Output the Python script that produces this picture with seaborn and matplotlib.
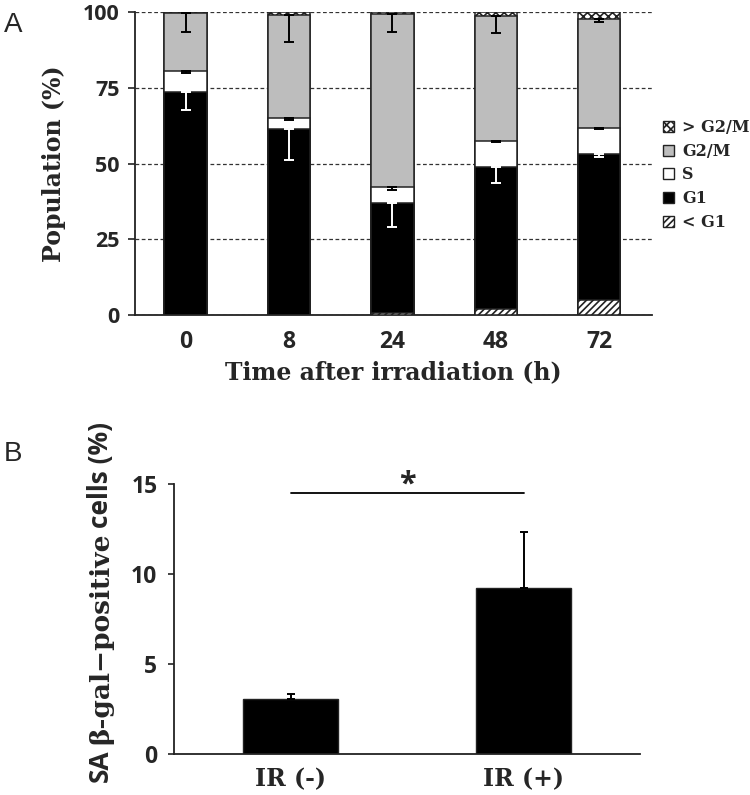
import numpy as np
import pandas as pd
import matplotlib
matplotlib.use("Agg")
import matplotlib.pyplot as plt
from matplotlib.patches import Patch
import seaborn as sns

# Panel A: cell cycle distribution (%) after irradiation
times = ["0", "8", "24", "48", "72"]
sub_g1 = [0.1, 0.1, 0.6, 2.0, 5.0]
g1 = [73.6, 61.2, 36.3, 47.0, 48.0]
s_phase = [6.9, 3.7, 5.5, 8.4, 8.6]
g2m = [19.0, 34.0, 56.8, 41.3, 36.0]
super_g2m = [0.4, 1.0, 0.8, 1.3, 2.4]
g1_err = [6.0, 10.0, 8.0, 5.6, 0.8]
s_err = [0.7, 0.6, 1.3, 0.3, 0.3]
g2m_err = [6.2, 9.0, 5.7, 5.5, 0.8]

# Panel B: SA beta-gal positive cells
groups = ["IR (-)", "IR (+)"]
sa_gal = [3.05, 9.26]
sa_gal_err = [0.28, 3.11]

sns.set_theme(style="ticks")
plt.rcParams["hatch.linewidth"] = 1.2
plt.rcParams["font.weight"] = "bold"

sans = ["Open Sans", "DejaVu Sans"]
serif = ["DejaVu Serif"]

df = pd.DataFrame({"time": times, "subg1": sub_g1, "g1": g1, "s": s_phase,
                   "g2m": g2m, "sup": super_g2m})
df["c_subg1"] = df["subg1"]
df["c_g1"] = df["c_subg1"] + df["g1"]
df["c_s"] = df["c_g1"] + df["s"]
df["c_g2m"] = df["c_s"] + df["g2m"]
df["c_sup"] = df["c_g2m"] + df["sup"]

W, H = 750, 795
fig = plt.figure(figsize=(7.5, 7.95), dpi=100)
axA = fig.add_axes([135 / W, 1 - 315 / H, (652 - 135) / W, (315 - 12) / H])
axB = fig.add_axes([174 / W, 1 - 754.3 / H, (640 - 174) / W, (754.3 - 484.3) / H])

edge = "#222222"
lw = 1.1
bw = 0.41
# stacked bars: draw cumulative totals from the top down
layers = [("c_sup", "white", "xxxx"), ("c_g2m", "#bdbdbd", None),
          ("c_s", "white", None), ("c_g1", "black", None),
          ("c_subg1", "white", "/////")]
for col, fc, hatch in layers:
    sns.barplot(data=df, x="time", y=col, color=fc, saturation=1, width=bw,
                edgecolor=edge, linewidth=lw, hatch=hatch, ax=axA, zorder=3)

pos = np.arange(len(times))
zeros = np.zeros(len(times))
axA.errorbar(pos, df["c_g1"], yerr=[g1_err, zeros], fmt="none", ecolor="white",
             elinewidth=1.4, capsize=3.5, capthick=1.4, zorder=4)
axA.errorbar(pos, df["c_s"], yerr=[s_err, zeros], fmt="none", ecolor="black",
             elinewidth=1.4, capsize=3.5, capthick=1.4, zorder=4)
axA.errorbar(pos, df["c_g2m"], yerr=[g2m_err, zeros], fmt="none", ecolor="black",
             elinewidth=1.4, capsize=3.5, capthick=1.4, zorder=4)

axA.set_ylim(0, 100)
axA.set_xlim(-0.49, 4.51)
axA.set_yticks([0, 25, 50, 75, 100])
axA.yaxis.grid(True, linestyle=(0, (3, 2)), color="#333333", linewidth=0.9)
axA.set_axisbelow(True)
sns.despine(ax=axA)
for sp in ["left", "bottom"]:
    axA.spines[sp].set_color("#222222")
    axA.spines[sp].set_linewidth(1.3)
axA.tick_params(axis="y", length=5, width=1.2, pad=6, color="#222222",
                labelsize=15.5, labelfontfamily=sans)
axA.tick_params(axis="x", length=0, pad=11, labelsize=16.5, labelfontfamily=sans)
axA.set_xlabel("Time after irradiation (h)", family=serif, fontweight="bold",
               fontsize=17, labelpad=4)
axA.set_ylabel("Population (%)", family=serif, fontweight="bold",
               fontsize=17, labelpad=12)

handles = [Patch(facecolor="white", edgecolor=edge, hatch="xxxx", label="> G2/M"),
           Patch(facecolor="#bdbdbd", edgecolor=edge, label="G2/M"),
           Patch(facecolor="white", edgecolor=edge, label="S"),
           Patch(facecolor="black", edgecolor=edge, label="G1"),
           Patch(facecolor="white", edgecolor=edge, hatch="/////", label="< G1")]
fig.legend(handles=handles, loc="center left", bbox_to_anchor=(0.884, 0.78),
           frameon=False, handlelength=0.7, handleheight=0.7,
           handletextpad=0.5, labelspacing=0.42, borderaxespad=0, borderpad=0,
           prop={"family": serif, "weight": "bold", "size": 11.5})

# Panel B
dfB = pd.DataFrame({"group": groups, "val": sa_gal})
sns.barplot(data=dfB, x="group", y="val", color="black", saturation=1,
            width=0.41, edgecolor=edge, linewidth=1, ax=axB)
posB = np.arange(len(groups))
axB.errorbar(posB, sa_gal, yerr=[np.zeros(len(groups)), sa_gal_err], fmt="none",
             ecolor="black", elinewidth=1.4, capsize=3, capthick=1.4)
axB.set_xlim(-0.5, 1.5)
axB.set_ylim(0, 15)
axB.set_yticks([0, 5, 10, 15])
sns.despine(ax=axB)
for sp in ["left", "bottom"]:
    axB.spines[sp].set_color("#222222")
    axB.spines[sp].set_linewidth(1.3)
axB.tick_params(axis="y", length=4, width=1.2, pad=8, color="#222222",
                labelsize=16.5, labelfontfamily=sans)
axB.tick_params(axis="x", length=0, pad=9, labelsize=17, labelfontfamily=serif)
axB.set_xlabel("")
axB.set_ylabel("")

# y label with mixed fonts, stacked bottom to top
renderer = fig.canvas.get_renderer()
ypix = H - 782
pieces = [("SA", sans), ("β-gal−positive", serif), ("cells (%)", sans)]
for txt, fam in pieces:
    t = fig.text(108 / W, ypix / H, txt, rotation=90, rotation_mode="anchor",
                 ha="left", va="baseline", family=fam, fontweight="bold",
                 fontsize=19)
    ypix += t.get_window_extent(renderer).height + 5

# significance bar
axB.plot([0, 1], [14.5, 14.5], color="black", lw=1.3, clip_on=False)
axB.text(0.5, 15.0, "*", ha="center", va="center", fontsize=22,
         fontweight="bold", family=sans)

fig.text(0.005, 0.985, "A", fontsize=20, fontweight="normal",
         family=["Liberation Sans"], va="top")
fig.text(0.005, 0.445, "B", fontsize=20, fontweight="normal",
         family=["Liberation Sans"], va="top")

fig.savefig("out.png", dpi=100)
